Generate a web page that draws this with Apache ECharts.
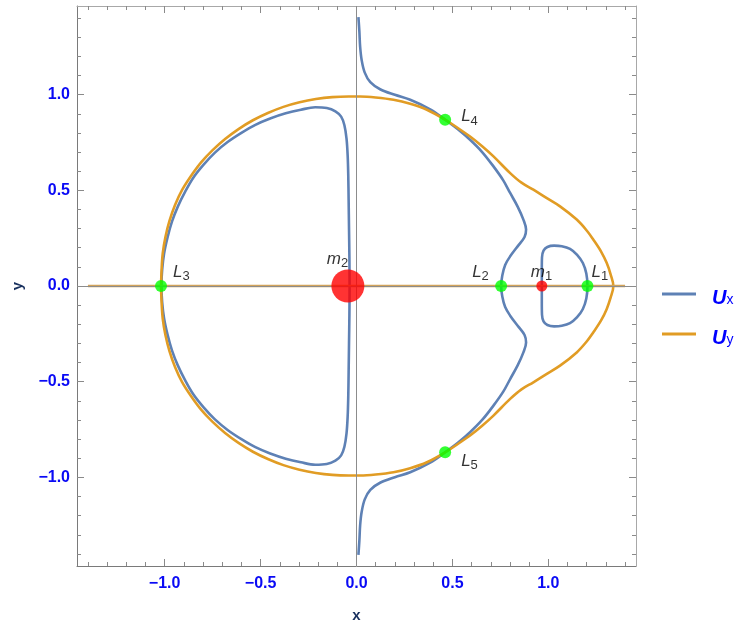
<!DOCTYPE html>
<html>
<head>
<meta charset="utf-8">
<script src="https://cdn.jsdelivr.net/npm/echarts@6/dist/echarts.min.js"></script>
<style>
  html, body { margin: 0; padding: 0; background: #ffffff; }
  #chart { width: 738px; height: 628px; }
</style>
</head>
<body>
<div id="chart"></div>
<script>
// Plot window of the rotating frame (units of the primaries' separation)
const xRange = [-1.457, 1.457];
const yRange = [-1.463, 1.463];

// Frame ticks
const majorTicks = [-1, -0.5, 0, 0.5, 1];
const minorTicks = [-1.4, -1.3, -1.2, -1.1, -1.0, -0.9, -0.8, -0.7, -0.6, -0.5, -0.4, -0.3, -0.2, -0.1, 0,
                    0.1, 0.2, 0.3, 0.4, 0.5, 0.6, 0.7, 0.8, 0.9, 1.0, 1.1, 1.2, 1.3, 1.4];

// Ux = 0: open branch running from the top edge past L4, through L2, past L5 to the bottom edge
const uxOuterBranch = [
  [0.010, 1.405], [0.015, 1.33], [0.019, 1.25], [0.027, 1.18], [0.043, 1.115], [0.072, 1.065],
  [0.123, 1.028], [0.200, 0.999], [0.280, 0.973], [0.384, 0.923], [0.462, 0.869], [0.530, 0.818],
  [0.592, 0.764], [0.655, 0.700], [0.714, 0.625], [0.765, 0.552], [0.801, 0.486], [0.840, 0.415],
  [0.870, 0.347], [0.884, 0.295], [0.876, 0.256], [0.846, 0.215], [0.801, 0.155], [0.775, 0.110],
  [0.760, 0.055], [0.754, 0],
  [0.760, -0.055], [0.775, -0.110], [0.801, -0.155], [0.846, -0.215], [0.876, -0.256], [0.884, -0.295],
  [0.870, -0.347], [0.840, -0.415], [0.801, -0.486], [0.765, -0.552], [0.714, -0.625], [0.655, -0.700],
  [0.592, -0.764], [0.530, -0.818], [0.462, -0.869], [0.384, -0.923], [0.280, -0.973], [0.200, -0.999],
  [0.123, -1.028], [0.072, -1.065], [0.043, -1.115], [0.027, -1.18], [0.019, -1.25], [0.015, -1.33],
  [0.010, -1.405]
];

// Ux = 0: closed loop through L3, hugging the larger primary's axis
const uxLeftLoop = [
  [-0.036, 0], [-0.037, 0.15], [-0.039, 0.30], [-0.041, 0.45], [-0.043, 0.58], [-0.046, 0.68],
  [-0.052, 0.77], [-0.063, 0.84], [-0.080, 0.885], [-0.110, 0.913], [-0.155, 0.930], [-0.215, 0.934],
  [-0.290, 0.921], [-0.369, 0.902], [-0.450, 0.875], [-0.527, 0.842], [-0.600, 0.800], [-0.672, 0.752],
  [-0.738, 0.697], [-0.797, 0.634], [-0.850, 0.567], [-0.893, 0.493], [-0.931, 0.416], [-0.962, 0.336],
  [-0.985, 0.254], [-1.003, 0.170], [-1.013, 0.085], [-1.017, 0],
  [-1.013, -0.085], [-1.003, -0.170], [-0.985, -0.254], [-0.962, -0.336], [-0.931, -0.416], [-0.893, -0.493],
  [-0.850, -0.567], [-0.797, -0.634], [-0.738, -0.697], [-0.672, -0.752], [-0.600, -0.800], [-0.527, -0.842],
  [-0.450, -0.875], [-0.369, -0.902], [-0.290, -0.921], [-0.215, -0.934], [-0.155, -0.930], [-0.110, -0.913],
  [-0.080, -0.885], [-0.063, -0.84], [-0.052, -0.77], [-0.046, -0.68], [-0.043, -0.58], [-0.041, -0.45],
  [-0.039, -0.30], [-0.037, -0.15], [-0.036, 0]
];

// Ux = 0: small loop around the smaller primary, through L1
const uxSmallLoop = [
  [0.966, 0], [0.966, 0.086], [0.967, 0.150], [0.975, 0.185], [0.995, 0.204], [1.030, 0.211],
  [1.070, 0.208], [1.113, 0.194], [1.150, 0.163], [1.180, 0.120], [1.198, 0.065], [1.204, 0],
  [1.198, -0.065], [1.180, -0.120], [1.150, -0.163], [1.113, -0.194], [1.070, -0.208], [1.030, -0.211],
  [0.995, -0.204], [0.975, -0.185], [0.967, -0.150], [0.966, -0.086], [0.966, 0]
];

// Uy = 0: outer closed curve through L3, L4, L5
const uyOuterLoop = [
  [-1.019, 0], [-1.016, 0.086], [-1.010, 0.171], [-0.996, 0.256], [-0.975, 0.340], [-0.946, 0.423],
  [-0.909, 0.502], [-0.862, 0.576], [-0.810, 0.646], [-0.750, 0.710], [-0.685, 0.768], [-0.615, 0.820],
  [-0.540, 0.866], [-0.462, 0.904], [-0.381, 0.936], [-0.297, 0.960], [-0.212, 0.977], [-0.126, 0.987],
  [-0.040, 0.990], [0.019, 0.990], [0.100, 0.985],
  [0.193, 0.973], [0.280, 0.952], [0.367, 0.921], [0.462, 0.869], [0.530, 0.824], [0.592, 0.781],
  [0.655, 0.730], [0.714, 0.677], [0.801, 0.590], [0.860, 0.540], [0.922, 0.503], [0.990, 0.460],
  [1.061, 0.416], [1.148, 0.347], [1.200, 0.290], [1.234, 0.243], [1.275, 0.180], [1.304, 0.121],
  [1.325, 0.060], [1.339, 0],
  [1.325, -0.060], [1.304, -0.121], [1.275, -0.180], [1.234, -0.243], [1.200, -0.290], [1.148, -0.347],
  [1.061, -0.416], [0.990, -0.460], [0.922, -0.503], [0.860, -0.540], [0.801, -0.590], [0.714, -0.677],
  [0.655, -0.730], [0.592, -0.781], [0.530, -0.824], [0.462, -0.869], [0.367, -0.921], [0.280, -0.952],
  [0.193, -0.973], [0.100, -0.985], [0.019, -0.990],
  [-0.040, -0.990], [-0.126, -0.987], [-0.212, -0.977], [-0.297, -0.960], [-0.381, -0.936], [-0.462, -0.904],
  [-0.540, -0.866], [-0.615, -0.820], [-0.685, -0.768], [-0.750, -0.710], [-0.810, -0.646], [-0.862, -0.576],
  [-0.909, -0.502], [-0.946, -0.423], [-0.975, -0.340], [-0.996, -0.256], [-1.010, -0.171], [-1.016, -0.086],
  [-1.019, 0]
];

// Uy = 0 also holds along the whole x-axis
const uyAxisLine = [[-1.4, 0], [1.4, 0]];

// Equilibrium points and primaries
const lagrangeNames = ['L1', 'L2', 'L3', 'L4', 'L5'];
const lagrangeCoords = [[1.204, 0], [0.754, 0], [-1.019, 0], [0.462, 0.869], [0.462, -0.869]];
const primaryNames = ['m1', 'm2'];
const primaryCoords = [[0.966, 0], [-0.045, 0]];

const FONT = '"Liberation Sans", Arial, sans-serif';
const BLUE = '#5e81b5';
const ORANGE = '#e19c24';
const TICK_BLUE = '#0a0af5';
const NAVY = '#18305e';

// label placement next to each marker: [dx, dy] from the marker centre
const labelOffsets = {
  L1: [4, -14], L2: [-29, -14], L3: [12, -14], L4: [16, -3], L5: [16, 9],
  m1: [-11, -14], m2: [-21, -27]
};
const markerStyle = {
  L: { color: '#00ff00', size: 12 },
  m1: { color: '#ff0000', size: 11 },
  m2: { color: '#ff0000', size: 33 }
};

const labelRich = {
  a: { fontFamily: FONT, fontStyle: 'italic', fontSize: 17, color: '#000', lineHeight: 20, verticalAlign: 'middle' },
  b: { fontFamily: FONT, fontSize: 13, color: '#000', lineHeight: 20, padding: [9, 0, 0, 0], verticalAlign: 'middle' }
};

function markerItem(name, coord) {
  const style = name.startsWith('L') ? markerStyle.L : markerStyle[name];
  const off = labelOffsets[name];
  return {
    name: name,
    value: coord,
    symbolSize: style.size,
    itemStyle: { color: style.color },
    label: {
      show: true,
      position: 'inside',
      align: 'left',
      verticalAlign: 'middle',
      offset: off,
      formatter: '{a|' + name[0] + '}{b|' + name.slice(1) + '}',
      rich: labelRich
    }
  };
}

const markerData = lagrangeNames.map((n, i) => markerItem(n, lagrangeCoords[i]))
  .concat(primaryNames.map((n, i) => markerItem(n, primaryCoords[i])));

const fmt = v => v.toFixed(1).replace('-', '\u2212');

function makeAxis(dim, position, major, showLine, extra) {
  const isX = dim === 'x';
  const range = isX ? xRange : yRange;
  return Object.assign({
    type: 'value',
    position: position,
    min: range[0],
    max: range[1],
    splitLine: { show: false },
    axisLine: { show: showLine, onZero: false, lineStyle: { color: (position === 'bottom' || position === 'left') ? '#7a7a7a' : '#a8a8a8', width: 1 } },
    axisTick: {
      show: true, inside: true, length: major ? 7 : 4,
      customValues: major ? majorTicks : minorTicks,
      lineStyle: { color: '#8a8a8a', width: 1 }
    },
    axisLabel: { show: false }
  }, extra || {});
}

const labelStyle = {
  show: true,
  customValues: majorTicks,
  formatter: fmt,
  color: TICK_BLUE,
  fontFamily: FONT,
  fontWeight: 'bold',
  fontSize: 16
};

const option = {
  animation: false,
  backgroundColor: '#ffffff',
  grid: { left: 77, top: 6, width: 559, height: 560, containLabel: false },
  xAxis: [
    makeAxis('x', 'bottom', true, true, {
      axisLabel: Object.assign({}, labelStyle, { margin: 10 }),
      name: 'x', nameLocation: 'middle', nameGap: 42,
      nameTextStyle: { color: NAVY, fontFamily: FONT, fontWeight: 'bold', fontSize: 15 }
    }),
    makeAxis('x', 'bottom', false, false),
    makeAxis('x', 'top', true, true),
    makeAxis('x', 'top', false, false)
  ],
  yAxis: [
    makeAxis('y', 'left', true, true, {
      axisLabel: Object.assign({}, labelStyle, { margin: 7 }),
      name: 'y', nameLocation: 'middle', nameGap: 52, nameRotate: 90,
      nameTextStyle: { color: NAVY, fontFamily: FONT, fontWeight: 'bold', fontSize: 15 }
    }),
    makeAxis('y', 'left', false, false),
    makeAxis('y', 'right', true, true),
    makeAxis('y', 'right', false, false)
  ],
  legend: {
    data: ['Ux', 'Uy'],
    orient: 'vertical',
    left: 657,
    top: 275,
    itemWidth: 34,
    itemHeight: 3,
    itemGap: 12,
    icon: 'rect',
    selectedMode: false,
    formatter: n => '{u|U}{s|' + n.slice(1) + '}',
    textStyle: {
      rich: {
        u: { fontFamily: FONT, fontWeight: 'bold', fontStyle: 'italic', fontSize: 20, color: '#0000ff', lineHeight: 26, padding: [8, 0, 0, 11] },
        s: { fontFamily: FONT, fontSize: 14, color: '#0000ff', lineHeight: 26, padding: [12, 0, 0, 0] }
      }
    }
  },
  series: [
    {
      name: 'axes',
      type: 'line',
      data: [],
      silent: true,
      z: 1,
      markLine: {
        silent: true,
        symbol: 'none',
        label: { show: false },
        lineStyle: { color: '#8c8c8c', width: 1, type: 'solid' },
        data: [{ xAxis: 0 }, { yAxis: 0 }]
      }
    },
    { name: 'Ux', type: 'line', data: uxOuterBranch, smooth: 0.35, showSymbol: false, z: 2,
      lineStyle: { color: BLUE, width: 2.6 }, itemStyle: { color: BLUE } },
    { name: 'Ux', type: 'line', data: uxLeftLoop, smooth: 0.35, showSymbol: false, z: 2,
      lineStyle: { color: BLUE, width: 2.6 }, itemStyle: { color: BLUE } },
    { name: 'Ux', type: 'line', data: uxSmallLoop, smooth: 0.35, showSymbol: false, z: 2,
      lineStyle: { color: BLUE, width: 2.6 }, itemStyle: { color: BLUE } },
    { name: 'Uy', type: 'line', data: uyOuterLoop, smooth: 0.35, showSymbol: false, z: 3,
      lineStyle: { color: ORANGE, width: 2.6 }, itemStyle: { color: ORANGE } },
    { name: 'Uy', type: 'line', data: uyAxisLine, showSymbol: false, z: 3,
      lineStyle: { color: '#d2a35a', width: 2.6 }, itemStyle: { color: ORANGE } },
    {
      name: 'points',
      type: 'scatter',
      data: markerData,
      symbol: 'circle',
      z: 5
    }
  ]
};

const chart = echarts.init(document.getElementById('chart'), null, { renderer: 'canvas' });
chart.setOption(option);
</script>
</body>
</html>
